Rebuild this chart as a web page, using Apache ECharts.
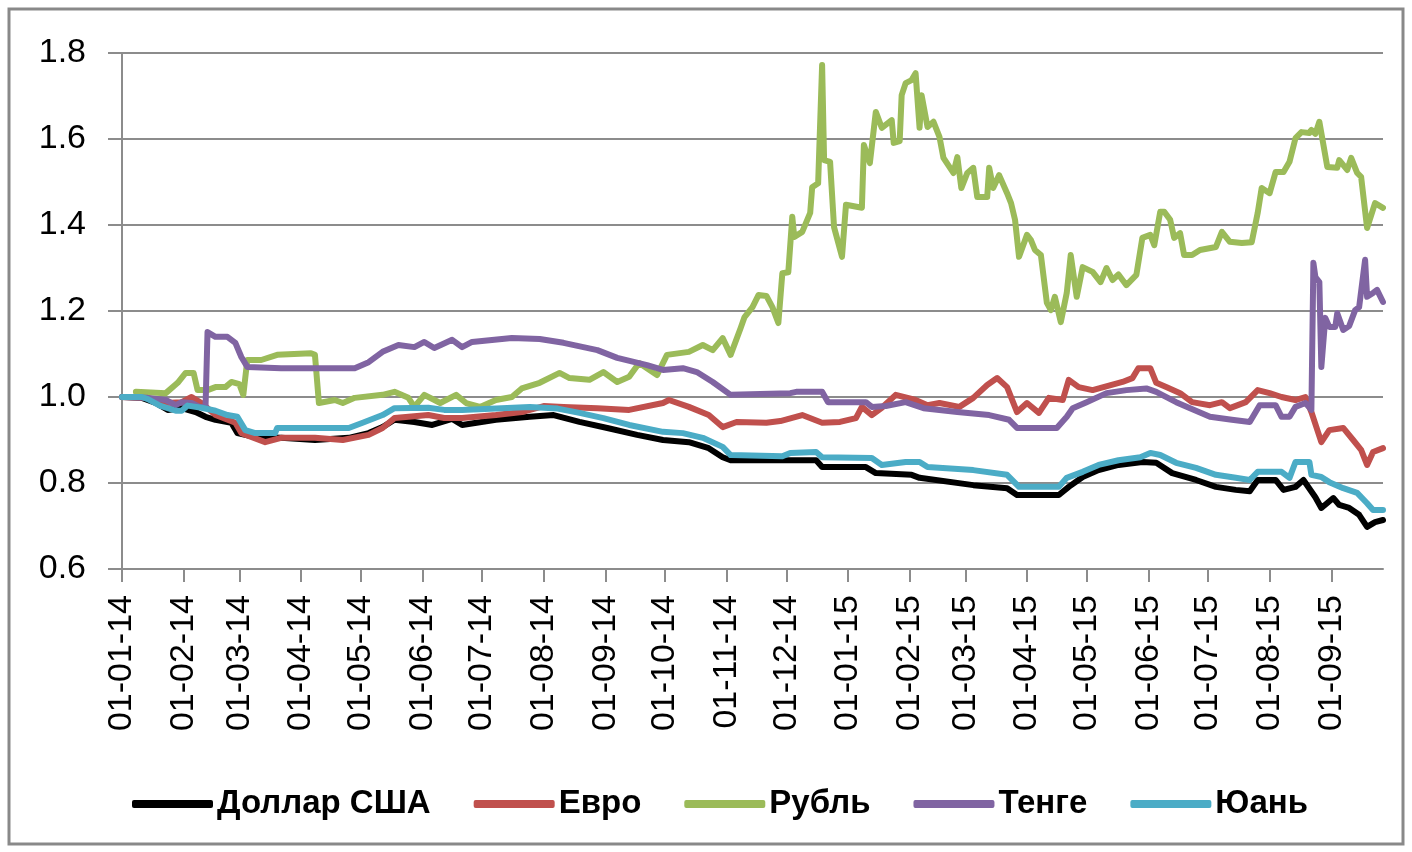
<!DOCTYPE html>
<html>
<head>
<meta charset="utf-8">
<script src="https://cdn.jsdelivr.net/npm/echarts@6/dist/echarts.min.js"></script>
<style>
  html, body { margin: 0; padding: 0; background: #fff; }
  #chart { width: 1412px; height: 852px; }
</style>
</head>
<body>
<div id="chart"></div>
<script>
// ось X: подписи месяцев (день-месяц-год)
var tickLabels = ['01-01-14', '01-02-14', '01-03-14', '01-04-14', '01-05-14', '01-06-14',
    '01-07-14', '01-08-14', '01-09-14', '01-10-14', '01-11-14', '01-12-14',
    '01-01-15', '01-02-15', '01-03-15', '01-04-15', '01-05-15', '01-06-15',
    '01-07-15', '01-08-15', '01-09-15']
var lastDay = 634 // дней от 01-01-14 до последней точки

var seriesNames = ['Доллар США', 'Евро', 'Рубль', 'Тенге', 'Юань']
var colors = ['#000000', '#C0504D', '#9BBB59', '#8064A2', '#4BACC6']

// [день от 01-01-14, значение]
var usd = [[0, 1.0], [10, 0.998], [17, 0.986], [23, 0.97], [30, 0.974], [37, 0.965], [42, 0.954],
    [47, 0.947], [55, 0.94], [58, 0.916], [67, 0.907], [80, 0.905], [97, 0.90], [114, 0.905],
    [124, 0.916], [131, 0.93], [137, 0.947], [147, 0.942], [156, 0.935], [166, 0.949], [171, 0.935],
    [188, 0.947], [205, 0.954], [217, 0.958], [230, 0.942], [244, 0.928], [259, 0.912], [272, 0.90],
    [285, 0.895], [295, 0.881], [302, 0.86], [306, 0.853], [349, 0.853], [352, 0.837], [374, 0.837],
    [379, 0.823], [397, 0.819], [401, 0.812], [428, 0.795], [445, 0.788], [450, 0.772], [471, 0.772],
    [476, 0.791], [483, 0.814], [491, 0.830], [501, 0.842], [513, 0.849], [520, 0.847], [528, 0.823],
    [540, 0.807], [550, 0.791], [560, 0.784], [567, 0.781], [571, 0.807], [580, 0.807], [584, 0.784],
    [590, 0.791], [594, 0.807], [600, 0.767], [603, 0.742], [609, 0.765], [612, 0.749], [617, 0.742],
    [622, 0.726], [626, 0.698], [630, 0.709], [634, 0.714]]

var eur = [[0, 1.0], [13, 0.998], [22, 0.986], [30, 0.988], [35, 1.0], [40, 0.986], [47, 0.958],
    [57, 0.94], [60, 0.916], [72, 0.895], [80, 0.905], [97, 0.905], [111, 0.90], [124, 0.912],
    [131, 0.928], [137, 0.951], [154, 0.958], [162, 0.951], [171, 0.951], [188, 0.958], [201, 0.965],
    [212, 0.979], [222, 0.977], [239, 0.974], [255, 0.970], [272, 0.986], [275, 0.993], [285, 0.977],
    [295, 0.958], [302, 0.93], [309, 0.942], [324, 0.94], [331, 0.944], [342, 0.958], [352, 0.94],
    [361, 0.942], [369, 0.951], [372, 0.977], [377, 0.958], [382, 0.975], [389, 1.005], [399, 0.993],
    [405, 0.981], [411, 0.986], [421, 0.977], [428, 0.998], [435, 1.028], [440, 1.044], [445, 1.023],
    [450, 0.965], [455, 0.986], [461, 0.963], [466, 0.998], [473, 0.993], [476, 1.040], [481, 1.023],
    [488, 1.016], [503, 1.035], [508, 1.044], [511, 1.067], [517, 1.067], [520, 1.033], [525, 1.023],
    [532, 1.009], [538, 0.988], [547, 0.981], [553, 0.988], [557, 0.974], [565, 0.988], [571, 1.016],
    [577, 1.009], [583, 1.0], [590, 0.993], [595, 1.0], [598, 0.965], [601, 0.923], [603, 0.895],
    [607, 0.923], [614, 0.928], [619, 0.90], [623, 0.877], [626, 0.842], [629, 0.872], [634, 0.881]]

var rub = [[7, 1.012], [22, 1.009], [28, 1.033], [32, 1.056], [36, 1.056], [38, 1.016], [43, 1.016],
    [47, 1.023], [52, 1.023], [55, 1.035], [59, 1.03], [61, 1.005], [63, 1.086], [70, 1.086],
    [78, 1.098], [95, 1.102], [97, 1.098], [99, 0.986], [107, 0.993], [111, 0.986], [117, 0.998],
    [131, 1.005], [137, 1.012], [144, 0.998], [147, 0.977], [152, 1.005], [160, 0.986], [168, 1.005],
    [173, 0.986], [180, 0.977], [188, 0.993], [196, 1.0], [201, 1.02], [210, 1.033], [220, 1.056],
    [225, 1.044], [235, 1.040], [242, 1.058], [249, 1.035], [255, 1.047], [260, 1.079], [269, 1.051],
    [274, 1.098], [285, 1.105], [292, 1.121], [297, 1.109], [302, 1.137], [306, 1.098], [311, 1.16],
    [313, 1.186], [317, 1.209], [320, 1.237], [324, 1.235], [327, 1.209], [330, 1.172], [332, 1.288],
    [335, 1.29], [337, 1.419], [338, 1.372], [342, 1.384], [346, 1.428], [347, 1.488], [350, 1.497],
    [352, 1.772], [353, 1.551], [356, 1.547], [358, 1.395], [362, 1.326], [364, 1.447], [372, 1.44],
    [373, 1.586], [376, 1.544], [379, 1.663], [382, 1.626], [387, 1.644], [388, 1.591], [391, 1.595],
    [392, 1.702], [394, 1.73], [397, 1.737], [399, 1.753], [401, 1.626], [402, 1.702], [405, 1.628],
    [408, 1.64], [411, 1.605], [413, 1.556], [418, 1.521], [420, 1.558], [422, 1.486], [425, 1.521],
    [428, 1.533], [430, 1.465], [435, 1.465], [436, 1.533], [438, 1.486], [441, 1.516], [445, 1.474],
    [447, 1.451], [449, 1.412], [451, 1.326], [455, 1.377], [457, 1.365], [459, 1.342], [462, 1.33],
    [465, 1.219], [467, 1.202], [469, 1.233], [472, 1.174], [475, 1.242], [477, 1.330], [480, 1.233],
    [483, 1.302], [488, 1.291], [492, 1.267], [495, 1.30], [498, 1.272], [501, 1.285], [505, 1.26],
    [510, 1.284], [513, 1.370], [517, 1.377], [519, 1.353], [522, 1.431], [524, 1.431], [527, 1.412],
    [529, 1.370], [532, 1.381], [534, 1.330], [538, 1.330], [542, 1.342], [550, 1.349], [553, 1.384],
    [557, 1.361], [563, 1.358], [568, 1.36], [571, 1.428], [573, 1.486], [577, 1.474], [580, 1.523],
    [584, 1.523], [587, 1.547], [590, 1.602], [593, 1.616], [597, 1.614], [598, 1.621], [600, 1.612],
    [602, 1.640], [606, 1.535], [611, 1.533], [612, 1.551], [616, 1.528], [618, 1.556], [621, 1.521],
    [623, 1.512], [626, 1.393], [630, 1.451], [634, 1.44]]

var kzt = [[0, 1.0], [13, 0.998], [22, 0.993], [27, 0.981], [30, 0.988], [35, 0.986], [39, 0.977],
    [42, 0.977], [43, 1.151], [47, 1.14], [53, 1.14], [57, 1.126], [60, 1.093], [63, 1.07],
    [80, 1.067], [117, 1.067], [124, 1.081], [131, 1.105], [139, 1.121], [147, 1.116], [152, 1.128],
    [157, 1.114], [166, 1.133], [171, 1.116], [176, 1.128], [196, 1.137], [210, 1.135], [222, 1.126],
    [239, 1.109], [249, 1.091], [264, 1.074], [272, 1.063], [282, 1.067], [289, 1.058], [297, 1.035],
    [306, 1.005], [336, 1.009], [339, 1.012], [352, 1.012], [355, 0.988], [374, 0.988], [377, 0.977],
    [384, 0.979], [394, 0.988], [403, 0.974], [420, 0.965], [436, 0.958], [446, 0.947], [450, 0.928],
    [470, 0.928], [475, 0.954], [478, 0.974], [485, 0.988], [495, 1.009], [505, 1.016], [515, 1.02],
    [520, 1.012], [530, 0.988], [537, 0.974], [547, 0.954], [558, 0.947], [567, 0.942], [572, 0.981],
    [580, 0.981], [583, 0.954], [587, 0.954], [590, 0.977], [595, 0.986], [598, 0.97], [599, 1.312],
    [600, 1.279], [602, 1.267], [603, 1.07], [605, 1.184], [607, 1.163], [610, 1.163], [611, 1.195],
    [614, 1.156], [617, 1.165], [620, 1.202], [622, 1.209], [625, 1.319], [626, 1.233], [629, 1.242],
    [631, 1.249], [634, 1.221]]

var cny = [[0, 1.0], [10, 1.0], [13, 0.995], [19, 0.98], [27, 0.968], [30, 0.968], [33, 0.98],
    [40, 0.975], [47, 0.968], [53, 0.958], [58, 0.954], [62, 0.923], [67, 0.916], [77, 0.916],
    [78, 0.928], [114, 0.928], [121, 0.94], [131, 0.958], [137, 0.974], [154, 0.975], [162, 0.97],
    [171, 0.970], [188, 0.973], [205, 0.977], [219, 0.973], [230, 0.963], [242, 0.951], [255, 0.935],
    [272, 0.919], [282, 0.916], [292, 0.905], [302, 0.884], [306, 0.865], [332, 0.862], [336, 0.870],
    [349, 0.872], [352, 0.86], [377, 0.858], [382, 0.842], [394, 0.849], [401, 0.849], [405, 0.837],
    [428, 0.830], [445, 0.819], [451, 0.791], [471, 0.791], [475, 0.812], [483, 0.826], [491, 0.842],
    [501, 0.853], [512, 0.86], [517, 0.870], [522, 0.865], [530, 0.847], [540, 0.835], [550, 0.819],
    [560, 0.812], [567, 0.807], [571, 0.826], [583, 0.826], [587, 0.812], [590, 0.849], [597, 0.849],
    [598, 0.819], [603, 0.814], [607, 0.802], [614, 0.788], [621, 0.777], [626, 0.753], [629, 0.737],
    [634, 0.737]]

var yTicks = [0.6, 1.8, 0.2] // min, max, шаг

// дни от начала для подписей месяцев
var start = Date.UTC(2014, 0, 1)
var tickDays = tickLabels.map(function (s) {
    var p = s.split('-')
    return Math.round((Date.UTC(2000 + (+p[2]), +p[1] - 1, +p[0]) - start) / 86400000)
})

var font = "'Liberation Sans', Arial, sans-serif"
var gray = '#8C8C8C'
var allData = [usd, eur, rub, kzt, cny]

let myChart = echarts.init(document.getElementById('chart'))
let option = {
    animation: false,
    backgroundColor: '#fff',
    textStyle: { fontFamily: font },
    graphic: [{
        type: 'rect',
        shape: { x: 9, y: 9, width: 1394, height: 835 },
        style: { fill: 'none', stroke: '#898989', lineWidth: 3 },
        silent: true
    }],
    grid: {
        left: 122,
        right: 29,
        top: 53,
        bottom: 283,
        outerBoundsMode: 'none'
    },
    legend: {
        data: seriesNames,
        left: 127,
        top: 782,
        icon: 'roundRect',
        itemWidth: 81,
        itemHeight: 8,
        itemGap: 43,
        textStyle: {
            fontFamily: font,
            fontSize: 33,
            fontWeight: 'bold',
            color: '#000',
            lineHeight: 34,
            padding: [0, 0, 0, -1]
        }
    },
    xAxis: {
        type: 'value',
        min: 0,
        max: lastDay,
        axisLine: { lineStyle: { color: gray, width: 2 } },
        axisTick: {
            customValues: tickDays,
            length: 13,
            lineStyle: { color: gray, width: 2 }
        },
        axisLabel: {
            customValues: tickDays,
            rotate: 90,
            margin: 26,
            fontSize: 34,
            color: '#000',
            fontFamily: font,
            formatter: function (v) {
                var i = tickDays.indexOf(v)
                return i >= 0 ? tickLabels[i] : ''
            }
        },
        splitLine: { show: false }
    },
    yAxis: {
        type: 'value',
        min: yTicks[0],
        max: yTicks[1],
        interval: yTicks[2],
        axisLine: { show: true, lineStyle: { color: gray, width: 2 } },
        axisTick: { show: true, length: 14, lineStyle: { color: gray, width: 2 } },
        axisLabel: {
            margin: 36,
            fontSize: 34,
            color: '#000',
            fontFamily: font,
            formatter: function (v) { return v.toFixed(1) }
        },
        splitLine: { show: true, lineStyle: { color: gray, width: 2 } }
    },
    series: seriesNames.map(function (name, i) {
        return {
            name: name,
            type: 'line',
            data: allData[i],
            symbol: 'none',
            color: colors[i],
            lineStyle: { width: 6, color: colors[i], cap: 'round', join: 'round' }
        }
    })
}

myChart.setOption(option)
</script>
</body>
</html>
